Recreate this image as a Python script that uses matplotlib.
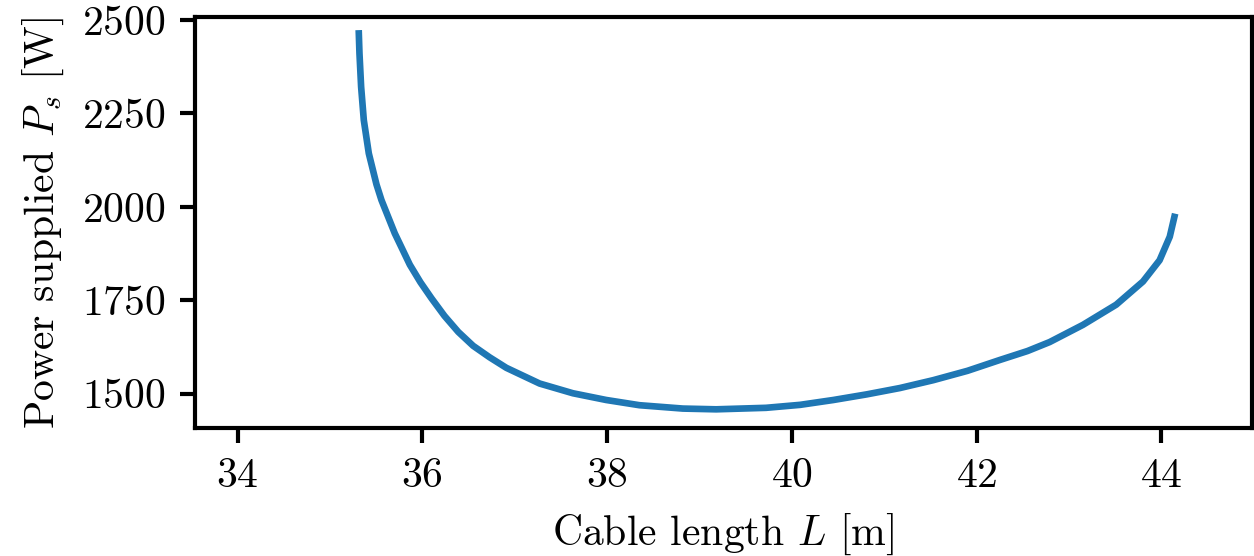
import matplotlib
matplotlib.use("Agg")
import matplotlib.pyplot as plt

# Values
cable_length = [35.313, 35.320, 35.338, 35.367, 35.421, 35.504, 35.558, 35.702,
                35.865, 35.98, 36.100, 36.24, 36.39, 36.55, 36.73, 36.91, 37.27,
                37.63, 37.99, 38.35, 38.82, 39.18, 39.72, 40.09, 40.45, 40.81,
                41.17, 41.53, 41.90, 42.25, 42.55, 42.79, 43.15, 43.51, 43.80,
                43.98, 44.09, 44.14]
power_supplied = [2464, 2411, 2321, 2232, 2143, 2060, 2018, 1929,
                  1845, 1798, 1755, 1708, 1665, 1628, 1597, 1569, 1527,
                  1501, 1483, 1469, 1460, 1458, 1462, 1470, 1483, 1498,
                  1515, 1536, 1561, 1590, 1614, 1638, 1684, 1738, 1800,
                  1857, 1920, 1973]

x_ticks = [34, 36, 38, 40, 42, 44]
y_ticks = [1500, 1750, 2000, 2250, 2500]

plt.rcParams['font.family'] = ['cmr10', 'DejaVu Serif']
plt.rcParams['mathtext.fontset'] = 'cm'
plt.rcParams['axes.formatter.use_mathtext'] = True
plt.rcParams['font.size'] = 10

fig = plt.figure(figsize=(1254 / 300, 556 / 300), dpi=300)
ax = fig.add_axes([195 / 1254, 1 - 428 / 556, (1252 - 195) / 1254, (428 - 17) / 556])

ax.plot(cable_length, power_supplied, color='#1f77b4', linewidth=1.6,
        solid_joinstyle='round')

ax.set_xlim(33.54, 44.98)
ax.set_ylim(1408, 2508)
ax.set_xticks(x_ticks)
ax.set_yticks(y_ticks)
ax.tick_params(direction='out', length=3.5, width=1.0, pad=3.5)
for spine in ax.spines.values():
    spine.set_linewidth(1.0)

ax.set_xlabel('Cable length $L$ [m]')
ax.set_ylabel('Power supplied $P_s$ [W]')

# Save the plot as an image
fig.savefig('out.png', dpi=300)
